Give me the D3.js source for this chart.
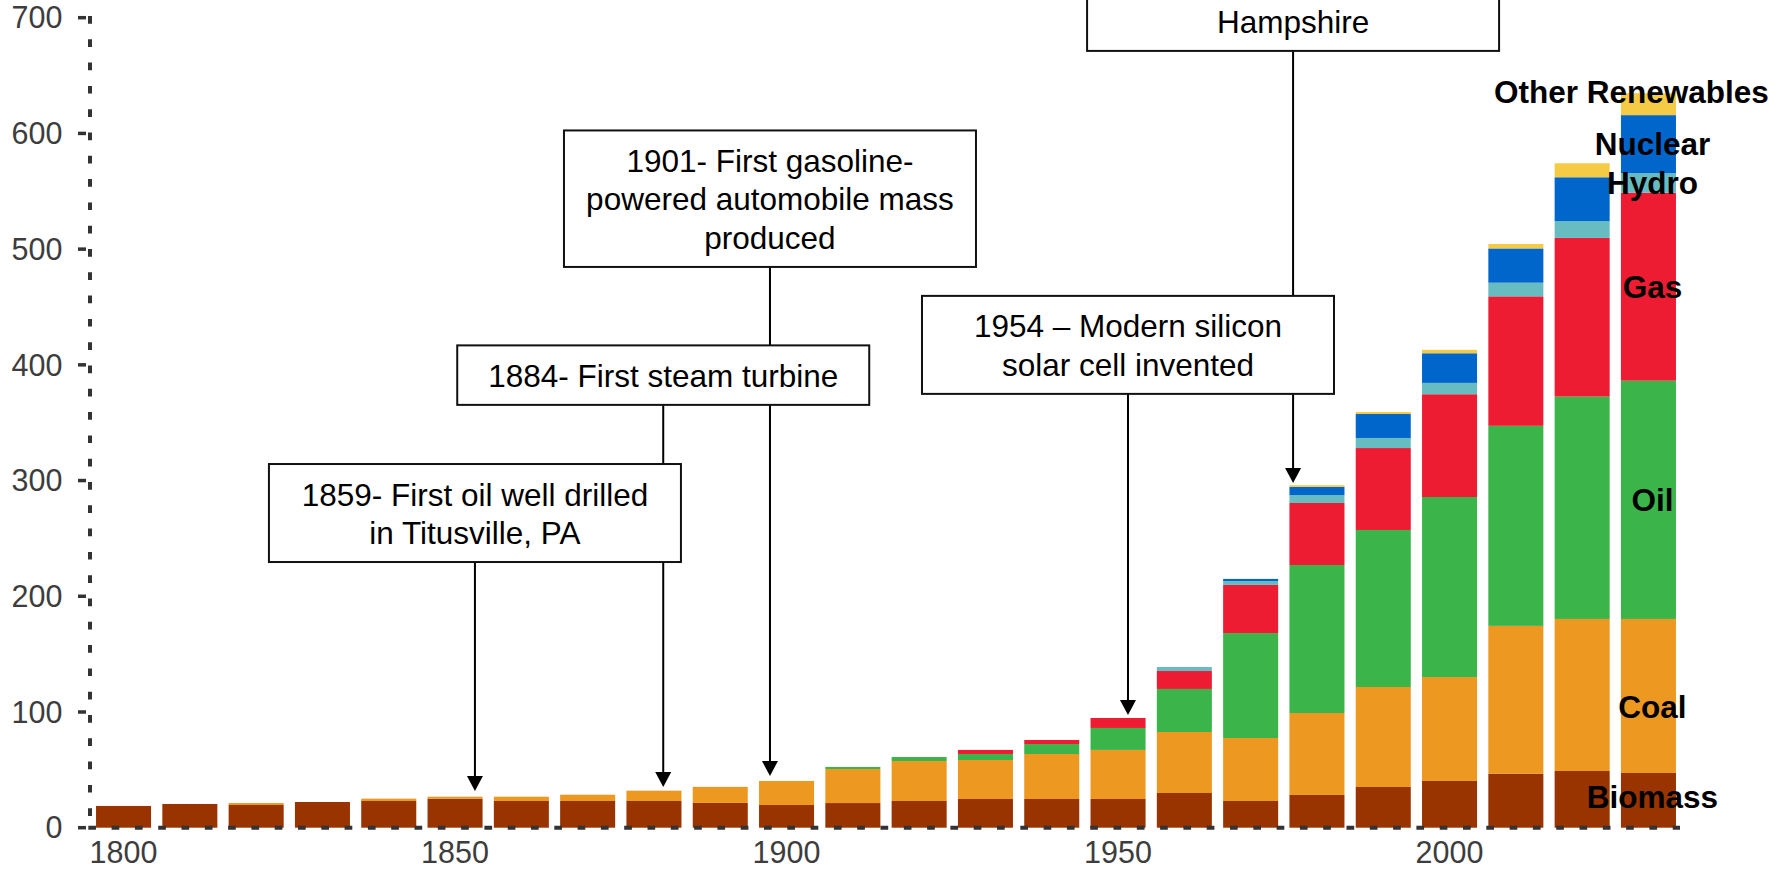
<!DOCTYPE html>
<html>
<head>
<meta charset="utf-8">
<script src="https://cdn.jsdelivr.net/npm/d3@7/dist/d3.min.js"></script>
<style>
  html, body { margin: 0; padding: 0; background: #fff; }
  svg { display: block; font-family: "Liberation Sans", Arial, sans-serif; }
</style>
</head>
<body>
<div id="chart"></div>
<script>
// world primary energy by source (EJ), one bar per decade

const years = [1800, 1810, 1820, 1830, 1840, 1850, 1860, 1870, 1880, 1890, 1900, 1910,
               1920, 1930, 1940, 1950, 1960, 1970, 1980, 1990, 2000, 2010, 2020, 2030];

const biomass = [18.8, 20.5, 19.6, 22.2, 23.1, 25.1, 23.1, 23.1, 23.1, 21.4, 19.6, 21.3,
                 23.1, 24.8, 24.8, 24.8, 30.0, 23.1, 28.3, 35.2, 40.4, 46.7, 49.0, 47.3];
const coal    = [0, 0, 1.7, 0, 2.0, 1.7, 3.7, 5.4, 8.9, 13.9, 20.8, 29.4,
                 34.5, 33.7, 38.9, 42.4, 52.7, 54.4, 70.8, 86.4, 89.8, 127.7, 131.4, 133.1];
const oil     = [0, 0, 0, 0, 0, 0, 0, 0, 0, 0, 0, 1.8,
                 3.5, 5.2, 8.6, 19.0, 37.2, 90.7, 127.9, 135.7, 155.6, 172.9, 192.2, 205.9];
const gas     = [0, 0, 0, 0, 0, 0, 0, 0, 0, 0, 0, 0,
                 0, 3.5, 3.5, 8.6, 15.5, 41.6, 53.6, 70.8, 88.8, 111.9, 137.1, 162.5];
const hydro   = [0, 0, 0, 0, 0, 0, 0, 0, 0, 0, 0, 0,
                 0, 0, 0, 0, 3.5, 3.4, 6.9, 8.7, 9.8, 11.8, 14.6, 16.8];
const nuclear = [0, 0, 0, 0, 0, 0, 0, 0, 0, 0, 0, 0,
                 0, 0, 0, 0, 0, 1.8, 7.0, 20.7, 25.6, 29.6, 37.8, 50.2];
const otherRenewables = [0, 0, 0, 0, 0, 0, 0, 0, 0, 0, 0, 0,
                 0, 0, 0, 0, 0, 0, 1.5, 1.7, 3.0, 3.9, 12.1, 18.9];

const sourceNames = ['Biomass', 'Coal', 'Oil', 'Gas', 'Hydro', 'Nuclear', 'Other Renewables'];
const sourceColors = ['#993300', '#EC9821', '#3BB54A', '#ED1C33', '#66BCC0', '#0066CC', '#F5CB45'];

const yTicks = [0, 100, 200, 300, 400, 500, 600, 700];
const xTickYears = [1800, 1850, 1900, 1950, 2000];

// annotations: arrow x in years, box bottom and arrow tip in EJ
const noteLines = [
  ['1859- First oil well drilled', 'in Titusville, PA'],
  ['1884- First steam turbine'],
  ['1901- First gasoline-', 'powered automobile mass', 'produced'],
  ['1954 \u2013 Modern silicon', 'solar cell invented'],
  ['Hampshire']
];
const noteYear      = [1853.0, 1881.4, 1897.5, 1951.5, 1976.4];
const noteBoxBottom = [229.6, 365.4, 484.6, 374.9, 671.3];
const noteTip       = [31.7, 35.2, 44.7, 97.4, 297.8];
const noteRows      = [2, 1, 3, 2, 2];   // last box runs off the top of the picture

// ---- layout
const W = 1787, H = 870;
const svg = d3.select('#chart').append('svg')
  .attr('width', W).attr('height', H).attr('viewBox', `0 0 ${W} ${H}`);

const x = d3.scaleBand().domain(years).range([90.4, 1681.6]).paddingInner(0.17).paddingOuter(0.085);
const y = d3.scaleLinear().domain([0, 700]).range([827.7, 17.7]);
const bw = x.bandwidth();
const yearX = d3.scaleLinear().domain([1800, 2030]).range([x(1800) + bw / 2, x(2030) + bw / 2]);

const series = [biomass, coal, oil, gas, hydro, nuclear, otherRenewables];
const table = years.map((yr, i) => {
  const row = { year: yr };
  sourceNames.forEach((s, k) => row[s] = series[k][i]);
  return row;
});
const stacked = d3.stack().keys(sourceNames)(table);

// bars
const layers = svg.append('g').selectAll('g').data(stacked).join('g')
  .attr('fill', (d, i) => sourceColors[i]);
layers.selectAll('rect').data(d => d.filter(p => p[1] - p[0] > 0)).join('rect')
  .attr('x', d => x(d.data.year))
  .attr('width', bw)
  .attr('y', d => y(d[1]))
  .attr('height', d => y(d[0]) - y(d[1]));

// axes (dotted, like the original)
const axisCol = '#333';
svg.append('line').attr('x1', 90).attr('x2', 90).attr('y1', 16).attr('y2', 828)
  .attr('stroke', axisCol).attr('stroke-width', 4).attr('stroke-dasharray', '7.7 15.6');
svg.append('line').attr('x1', 88.3).attr('x2', 1680).attr('y1', 827.7).attr('y2', 827.7)
  .attr('stroke', axisCol).attr('stroke-width', 4).attr('stroke-dasharray', '7.7 15.6');

const yAxis = svg.append('g');
yAxis.selectAll('line').data(yTicks).join('line')
  .attr('x1', 78).attr('x2', 86).attr('y1', d => y(d)).attr('y2', d => y(d))
  .attr('stroke', axisCol).attr('stroke-width', 3.5);
yAxis.selectAll('text').data(yTicks).join('text')
  .attr('x', 62.5).attr('y', d => y(d)).attr('dy', '0.35em')
  .attr('text-anchor', 'end').attr('font-size', 30.5).attr('fill', '#3d3d3d')
  .text(d => d);

svg.append('g').selectAll('text').data(xTickYears).join('text')
  .attr('x', d => x(d) + bw / 2).attr('y', 863)
  .attr('text-anchor', 'middle').attr('font-size', 30.5).attr('fill', '#3d3d3d')
  .text(d => d);

// annotations
const lineH = 38.5, boxW = 412;
const notes = noteLines.map((lines, i) => {
  const bottom = y(noteBoxBottom[i]);
  const h = 21 + lineH * noteRows[i];
  return { lines, cx: yearX(noteYear[i]), bottom, top: bottom - h, tip: y(noteTip[i]) };
});

const ann = svg.append('g');
ann.selectAll('line').data(notes).join('line')
  .attr('x1', d => d.cx).attr('x2', d => d.cx)
  .attr('y1', d => d.bottom).attr('y2', d => d.tip - 12)
  .attr('stroke', '#000').attr('stroke-width', 2);
ann.selectAll('path').data(notes).join('path')
  .attr('d', d => `M${d.cx - 8},${d.tip - 15} L${d.cx + 8},${d.tip - 15} L${d.cx},${d.tip} Z`)
  .attr('fill', '#000');

const boxes = ann.selectAll('g.box').data(notes).join('g').attr('class', 'box');
boxes.append('rect')
  .attr('x', d => d.cx - boxW / 2).attr('y', d => d.top)
  .attr('width', boxW).attr('height', d => d.bottom - d.top)
  .attr('fill', '#fff').attr('stroke', '#111').attr('stroke-width', 2);
boxes.each(function (d) {
  const g = d3.select(this);
  const n = d.lines.length;
  d.lines.forEach((t, k) => {
    g.append('text')
      .attr('x', d.cx)
      .attr('y', d.bottom - 29 - (n - 1 - k) * lineH)
      .attr('dy', '0.35em')
      .attr('text-anchor', 'middle').attr('font-size', 31.5).attr('fill', '#000')
      .text(t);
  });
});

// series labels on the last bar
const last = years.length - 1;
const labelNudge = { 'Biomass': [4, -3], 'Coal': [4, 11], 'Other Renewables': [-17, -12] };
svg.append('g').selectAll('text').data(stacked).join('text')
  .attr('x', d => x(years[last]) + bw / 2 + (labelNudge[d.key] ? labelNudge[d.key][0] : 4))
  .attr('y', d => y((d[last][0] + d[last][1]) / 2) + (labelNudge[d.key] ? labelNudge[d.key][1] : 0))
  .attr('dy', '0.35em')
  .attr('text-anchor', 'middle').attr('font-size', 31.5).attr('font-weight', 'bold')
  .attr('fill', '#000')
  .text(d => d.key);
</script>
</body>
</html>
